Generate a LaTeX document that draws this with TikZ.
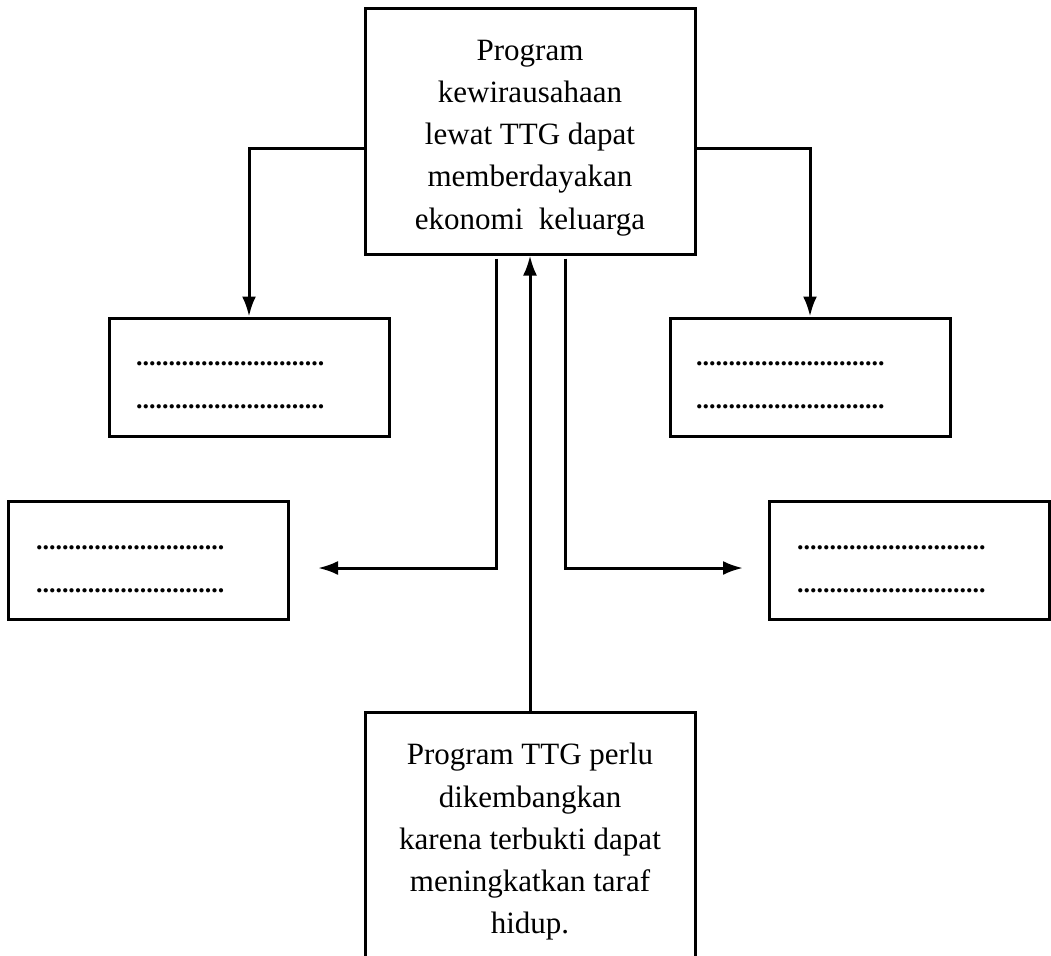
\documentclass[tikz,border=0pt]{standalone}
\usepackage{fontspec}
\setmainfont{Liberation Serif}
\usetikzlibrary{arrows.meta}
\tikzset{>={Latex[length=10pt,width=7pt]}}
\tikzset{
  mainbox/.style = {draw,line width=1.5pt,align=center,
    minimum width=165pt,minimum height=123pt,
    font=\fontsize{15.5}{21.1}\selectfont},
  dotbox/.style = {draw,line width=1.5pt,minimum width=140pt,
    minimum height=59pt,inner sep=0pt},
  link/.style = {line width=1.5pt}
}
\newcommand{\dotrow}{.............................}
\newcommand{\dotpair}[1]{\raisebox{#1}[0pt][0pt]{\parbox{112pt}{%
  \fontsize{13}{21.5}\selectfont\bfseries\dotrow\\\dotrow}}}
\newcommand{\toprule}{\rule{0pt}{17pt}}

\begin{document}
\begin{tikzpicture}[x=0.5pt,y=-0.5pt]
  \useasboundingbox (0,0) rectangle (1051,955);
  \clip (0,0) rectangle (1051,955);
  % top and bottom statements
  \node[mainbox] (top) at (530,131)
    {\toprule Program\\kewirausahaan\\lewat TTG dapat\\memberdayakan\\ekonomi~ keluarga};
  \node[mainbox,anchor=north] (bottom) at (530,711)
    {\toprule Program TTG perlu\\dikembangkan\\karena terbukti dapat\\meningkatkan taraf\\hidup.};
  % empty answer boxes
  \node[dotbox] (upleft) at (249,377) {\hspace*{-1pt}\dotpair{-6.5pt}};
  \node[dotbox] (upright) at (810,377) {\hspace*{-2pt}\dotpair{-6.5pt}};
  \node[dotbox] (lowleft) at (148,560) {\dotpair{-7.25pt}};
  \node[dotbox] (lowright) at (909,560) {\dotpair{-7.25pt}};
  \coordinate (lefttip) at (318,568);
  \coordinate (righttip) at (743,568);
  % connectors
  \draw[link,->] ([yshift=-8.5pt]top.west) -| (upleft.north);
  \draw[link,->] ([yshift=-8.5pt]top.east) -| (upright.north);
  \draw[link,->] ([xshift=-17pt,yshift=-1.5pt]top.south) |- (lefttip);
  \draw[link,->] ([xshift=17.5pt,yshift=-1.5pt]top.south) |- (righttip);
  \draw[link,->] (bottom.north) -- (top.south);
\end{tikzpicture}
\end{document}
